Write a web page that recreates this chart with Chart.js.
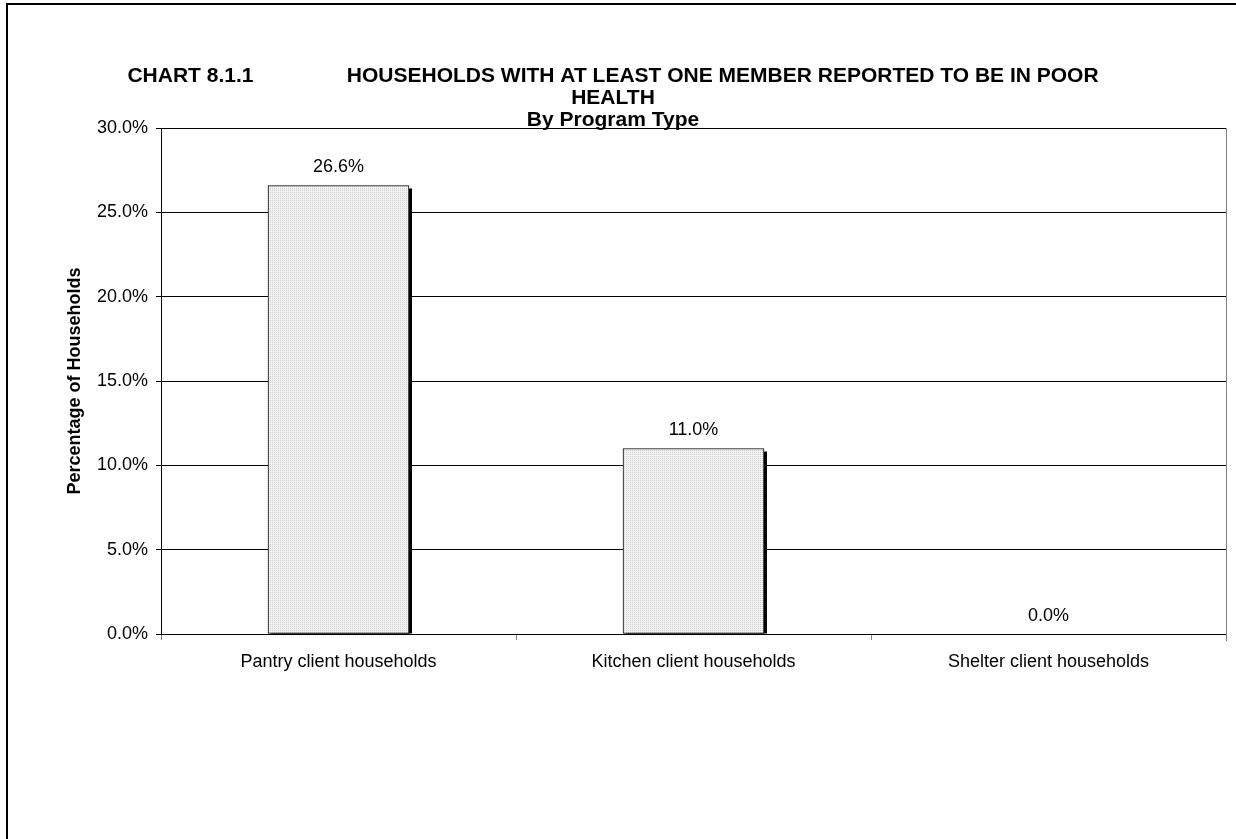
<!DOCTYPE html>
<html>
<head>
<meta charset="utf-8">
<script src="https://cdn.jsdelivr.net/npm/chart.js@4/dist/chart.umd.min.js"></script>
<style>
  html, body { margin: 0; padding: 0; background: #fff; }
  #wrap { width: 1236px; height: 839px; }
</style>
</head>
<body>
<div id="wrap"><canvas id="chart" width="1236" height="839"></canvas></div>
<script>
// Data
var categories = ['Pantry client households', 'Kitchen client households', 'Shelter client households'];
var values = [26.6, 11.0, 0.0];
var titleLines = [
  'CHART 8.1.1                HOUSEHOLDS WITH AT LEAST ONE MEMBER REPORTED TO BE IN POOR',
  'HEALTH',
  'By Program Type'
];
var yAxisTitle = 'Percentage of Households';

var FONT = "'Liberation Sans', Arial, sans-serif";

// light dotted fill like the Excel pattern
var makePattern = function () {
  var p = document.createElement('canvas');
  p.width = 2; p.height = 2;
  var c = p.getContext('2d');
  c.fillStyle = '#f2f2f2';
  c.fillRect(0, 0, 2, 2);
  c.fillStyle = '#cccccc';
  c.fillRect(0, 0, 1, 1);
  return c.createPattern(p, 'repeat');
};

// page frame, right plot border, bar shadows, value labels
var extras = {
  id: 'extras',
  beforeDraw: function (chart) {
    var ctx = chart.ctx;
    ctx.save();
    ctx.strokeStyle = '#000';
    ctx.lineWidth = 2;
    ctx.beginPath();
    ctx.moveTo(7, 900);
    ctx.lineTo(7, 4);
    ctx.lineTo(1300, 4);
    ctx.stroke();
    ctx.restore();
  },
  beforeDatasetsDraw: function (chart) {
    var ctx = chart.ctx;
    var meta = chart.getDatasetMeta(0);
    ctx.save();
    ctx.fillStyle = '#000';
    meta.data.forEach(function (bar) {
      var h = bar.base - bar.y;
      if (h > 3) {
        ctx.fillRect(bar.x - bar.width / 2 + 3, bar.y + 3, bar.width, h - 3);
      }
    });
    ctx.restore();
  },
  afterDatasetsDraw: function (chart) {
    var ctx = chart.ctx;
    var area = chart.chartArea;
    var meta = chart.getDatasetMeta(0);
    ctx.save();
    ctx.strokeStyle = '#808080';
    ctx.lineWidth = 1;
    ctx.beginPath();
    ctx.moveTo(area.right + 0.5, area.top);
    ctx.lineTo(area.right + 0.5, area.bottom + 7);
    ctx.stroke();
    ctx.fillStyle = '#000';
    ctx.font = '18px ' + FONT;
    ctx.textAlign = 'center';
    ctx.textBaseline = 'bottom';
    meta.data.forEach(function (bar, i) {
      ctx.fillText(values[i].toFixed(1) + '%', bar.x, bar.y - 9);
    });
    ctx.restore();
  }
};

var ctx = document.getElementById('chart').getContext('2d');
var chart = new Chart(ctx, {
  type: 'bar',
  data: {
    labels: categories,
    datasets: [{
      data: values,
      backgroundColor: makePattern(),
      borderColor: '#000',
      borderWidth: 1,
      borderSkipped: false,
      barThickness: 141
    }]
  },
  options: {
    responsive: false,
    animation: false,
    events: [],
    layout: { padding: { left: 0, right: 10, top: 0, bottom: 0 } },
    plugins: {
      legend: { display: false },
      tooltip: { enabled: false },
      title: {
        display: true,
        text: titleLines,
        color: '#000',
        font: { family: FONT, size: 21, weight: 'bold', lineHeight: 1.05 },
        padding: { top: 65, bottom: -3 }
      }
    },
    scales: {
      x: {
        offset: true,
        grid: {
          offset: true,
          drawOnChartArea: false,
          color: '#000',
          tickLength: 6,
          tickColor: '#808080'
        },
        border: { color: '#000', width: 1 },
        ticks: { color: '#000', font: { family: FONT, size: 18 }, padding: 11, maxRotation: 0 },
        afterFit: function (scale) { scale.height = 205; }
      },
      y: {
        min: 0,
        max: 30,
        ticks: {
          stepSize: 5,
          color: '#000',
          font: { family: FONT, size: 18 },
          padding: 8,
          callback: function (v) { return v.toFixed(1) + '%'; }
        },
        grid: { color: '#000', tickLength: 5, tickColor: '#000' },
        border: { color: '#000', width: 1 },
        title: {
          display: true,
          text: yAxisTitle,
          color: '#000',
          font: { family: FONT, size: 18, weight: 'bold' },
          padding: { top: 64, bottom: 0 }
        },
        afterFit: function (scale) { scale.width = 161; }
      }
    }
  },
  plugins: [extras]
});
</script>
</body>
</html>
